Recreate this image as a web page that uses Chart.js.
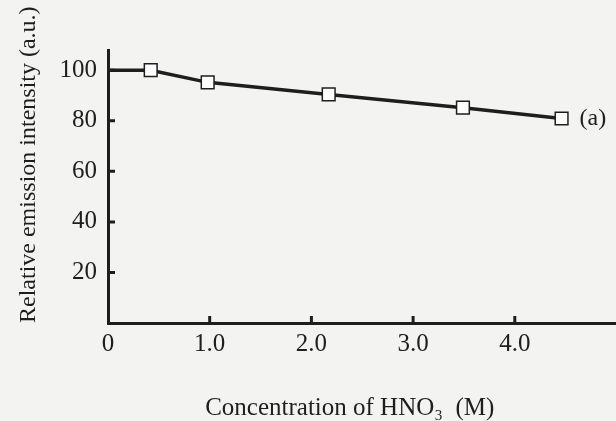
<!DOCTYPE html>
<html>
<head>
<meta charset="utf-8">
<script src="https://cdn.jsdelivr.net/npm/chart.js@4"></script>
<style>
  html, body { margin: 0; padding: 0; background: #f3f3f1; overflow: hidden; }
  /* a bit wider than the page so the x axis runs off the right edge, as in the scan */
  #wrap { width: 627px; height: 421px; }
</style>
</head>
<body>
<div id="wrap"><canvas id="chart"></canvas></div>
<script>
// Data
const concentration = [0, 0.42, 0.98, 2.17, 3.49, 4.46];  // HNO3 (M)
const intensity = [100, 100, 95.2, 90.4, 85.2, 80.9];     // relative emission (a.u.)
const seriesLabel = '(a)';
const xTicks = [0, 1, 2, 3, 4];
const yTicks = [20, 40, 60, 80, 100];

const ink = '#1e1e1e';
const serif = 'Liberation Serif, "DejaVu Serif", serif';

// Ticks drawn inward, plus the "(a)" tag next to the last point
const inwardTicks = {
    id: 'inwardTicks',
    afterDraw(chart) {
        const { ctx, scales: { x, y } } = chart;
        ctx.save();
        ctx.strokeStyle = ink;
        ctx.lineWidth = 3;
        ctx.beginPath();
        xTicks.filter(v => v > 0).forEach(v => {
            const px = x.getPixelForValue(v);
            ctx.moveTo(px, y.bottom);
            ctx.lineTo(px, y.bottom - 7);
        });
        yTicks.forEach(v => {
            const py = y.getPixelForValue(v);
            ctx.moveTo(x.left, py);
            ctx.lineTo(x.left + 7, py);
        });
        ctx.stroke();

        const meta = chart.getDatasetMeta(0);
        const last = meta.data[meta.data.length - 1];
        ctx.fillStyle = ink;
        ctx.font = '24px ' + serif;
        ctx.textBaseline = 'middle';
        ctx.fillText(seriesLabel, last.x + 18, last.y);
        ctx.restore();
    }
};

new Chart(document.getElementById('chart').getContext('2d'), {
    type: 'line',
    data: {
        datasets: [{
            data: concentration.map((c, i) => ({ x: c, y: intensity[i] })),
            borderColor: ink,
            borderWidth: 3.5,
            pointStyle: 'rect',
            pointRadius: ctx => ctx.dataIndex === 0 ? 0 : 9,
            pointBackgroundColor: '#ffffff',
            pointBorderColor: ink,
            pointBorderWidth: 1.5,
            tension: 0
        }]
    },
    options: {
        responsive: true,
        maintainAspectRatio: false,
        animation: false,
        layout: { padding: { top: 50, right: 0, left: 0, bottom: 0 } },
        plugins: { legend: { display: false }, tooltip: { enabled: false } },
        scales: {
            x: {
                type: 'linear',
                min: 0,
                max: 5,
                afterBuildTicks: s => { s.ticks = xTicks.map(v => ({ value: v })); },
                afterFit: s => { s.height = 98; },
                border: { color: ink, width: 3 },
                grid: { display: false, drawTicks: false },
                ticks: {
                    color: ink,
                    padding: 6,
                    font: { family: serif, size: 25 },
                    callback: v => v === 0 ? '0' : v.toFixed(1)
                },
                title: {
                    display: true,
                    // trailing spaces nudge the centred title left, like the scan
                    text: 'Concentration of HNO\u2083  (M)    ',
                    color: ink,
                    padding: { top: 0, bottom: -2 },
                    font: { family: serif, size: 25 }
                }
            },
            y: {
                min: 0,
                max: 108,
                afterBuildTicks: s => { s.ticks = yTicks.map(v => ({ value: v })); },
                afterFit: s => { s.width = 108; },
                border: { color: ink, width: 3 },
                grid: { display: false, drawTicks: false },
                ticks: {
                    color: ink,
                    padding: 11,
                    font: { family: serif, size: 25 }
                },
                title: {
                    display: true,
                    text: 'Relative emission intensity (a.u.)',
                    align: 'start',
                    color: ink,
                    padding: { top: 14, bottom: 0 },
                    font: { family: serif, size: 24 }
                }
            }
        }
    },
    plugins: [inwardTicks]
});
</script>
</body>
</html>
